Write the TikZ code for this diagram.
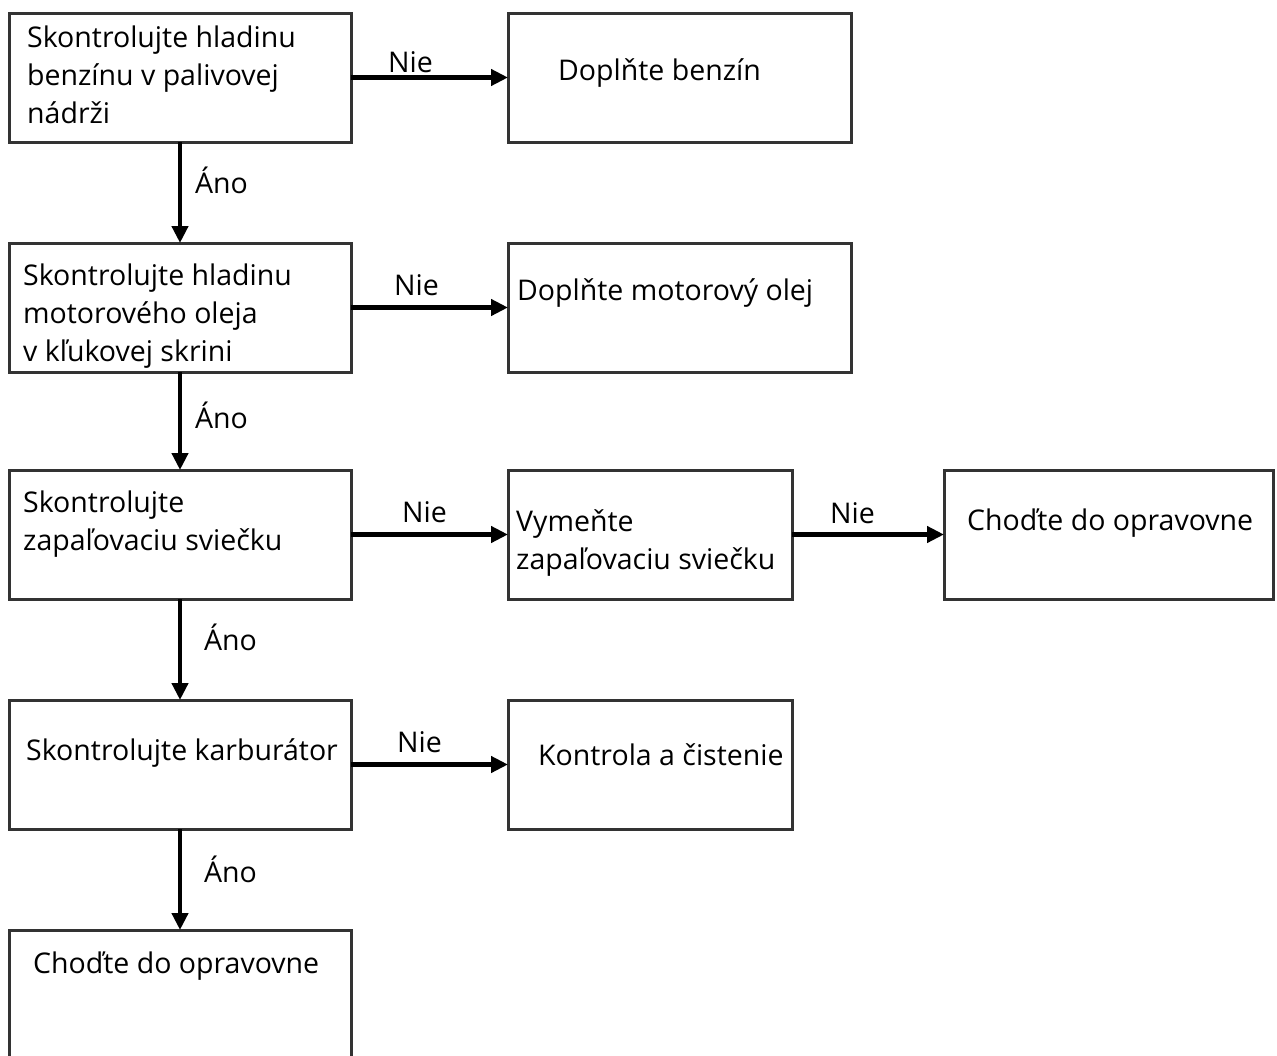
\documentclass[tikz,border=0pt]{standalone}
\usepackage{fontspec}
\setmainfont{Open Sans}
\usetikzlibrary{arrows.meta}
\begin{document}
\begin{tikzpicture}[x=1pt,y=-1pt,>={Triangle[length=17pt,width=16pt]},
  box/.style={draw=black!80,line width=3pt,inner sep=0pt,outer sep=0pt,anchor=north west,minimum height=129pt},
  txt/.style={anchor=base west,align=left,inner sep=0pt,font=\fontsize{28.5}{38}\selectfont},
  flow/.style={line width=4.5pt,->}]
\useasboundingbox (0,0) rectangle (1277,1055);
% left column
\node[box,minimum width=342pt](chkfuel) at (9,13){};
\node[box,minimum width=342pt](chkoil) at (9,243){};
\node[box,minimum width=342pt](chkplug) at (9,470){};
\node[box,minimum width=342pt](chkcarb) at (9,700){};
\node[box,minimum width=342pt](service) at (9,930){};
% right column
\node[box,minimum width=343pt](addfuel) at (508,13){};
\node[box,minimum width=343pt](addoil) at (508,243){};
\node[box,minimum width=284pt](newplug) at (508,470){};
\node[box,minimum width=284pt](clean) at (508,700){};
\node[box,minimum width=329pt](service2) at (944,470){};
% texts (placed at the baseline of the last line)
\node[txt](tfuel) at (27,123){Skontrolujte hladinu\\benzínu v palivovej\\nádrži};
\node[txt](toil) at (23,361){Skontrolujte hladinu\\motorového oleja\\v kľukovej skrini};
\node[txt](tplug) at (23,550){Skontrolujte\\zapaľovaciu sviečku};
\node[txt](tcarb) at (26,760){Skontrolujte karburátor};
\node[txt](tservice) at (33,973){Choďte do opravovne};
\node[txt](taddfuel) at (558,80){Doplňte benzín};
\node[txt](taddoil) at (517,300){Doplňte motorový olej};
\node[txt](tnewplug) at (516,569){Vymeňte\\zapaľovaciu sviečku};
\node[txt](tclean) at (538,765){Kontrola a čistenie};
\node[txt](tservice2) at (967,530){Choďte do opravovne};
% arrows
\draw[flow](chkfuel.east)--(addfuel.west);
\draw[flow](chkoil.east)--(addoil.west);
\draw[flow](chkplug.east)--(newplug.west);
\draw[flow](newplug.east)--(service2.west);
\draw[flow](chkcarb.east)--(clean.west);
\draw[flow](chkfuel.south)--(chkoil.north);
\draw[flow](chkoil.south)--(chkplug.north);
\draw[flow](chkplug.south)--(chkcarb.north);
\draw[flow](chkcarb.south)--(service.north);
% labels
\node[txt](nie1) at (388,72){Nie};
\node[txt](nie2) at (394,295){Nie};
\node[txt](nie3) at (402,522){Nie};
\node[txt](nie4) at (830,523){Nie};
\node[txt](nie5) at (397,752){Nie};
\node[txt](ano1) at (195,193){Áno};
\node[txt](ano2) at (195,428){Áno};
\node[txt](ano3) at (204,650){Áno};
\node[txt](ano4) at (204,882){Áno};
\end{tikzpicture}
\end{document}
